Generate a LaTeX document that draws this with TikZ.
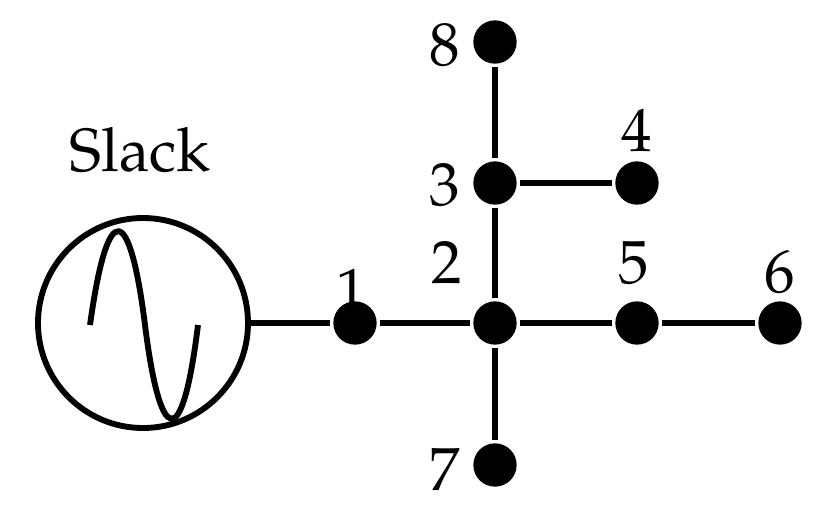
\documentclass[tikz,border=0pt]{standalone}
\usepackage{fontspec}
\setmainfont{TeX Gyre Pagella}[Extension=.otf,UprightFont=texgyrepagella-regular]
\begin{document}
\begin{tikzpicture}[x=0.03cm,y=-0.03cm,line width=5pt,
  bus/.style={circle,fill=black,inner sep=0pt,minimum size=1.3cm},
  lbl/.style={font=\fontsize{52}{56}\selectfont,inner sep=0pt}]
\useasboundingbox (0,0) rectangle (830,520);
\node[circle,draw,minimum size=6.3cm,inner sep=0pt] (g) at (143,323) {};
\draw (90,325) .. controls (108,195) and (130,205) .. (145,325) .. controls (160,445) and (182,455) .. (198,325);
\node[lbl] (sl) at (140,150) {Slack};
\node[bus] (n1) at (355,323) {};
\node[bus] (n2) at (495,323) {};
\node[bus] (n5) at (637,323) {};
\node[bus] (n6) at (780,323) {};
\node[bus] (n3) at (495,183) {};
\node[bus] (n4) at (637,183) {};
\node[bus] (n8) at (495,42) {};
\node[bus] (n7) at (495,465) {};
\draw (g) -- (n1) -- (n2) -- (n5) -- (n6);
\draw (n8) -- (n3) -- (n2) -- (n7);
\draw (n3) -- (n4);
\node[lbl] at (352,290) {1};
\node[lbl] at (447,263) {2};
\node[lbl] at (634,263) {5};
\node[lbl] at (780,272) {6};
\node[lbl] at (445,185) {3};
\node[lbl] at (637,130) {4};
\node[lbl] at (445,45) {8};
\node[lbl] at (445,470) {7};
\end{tikzpicture}
\end{document}
